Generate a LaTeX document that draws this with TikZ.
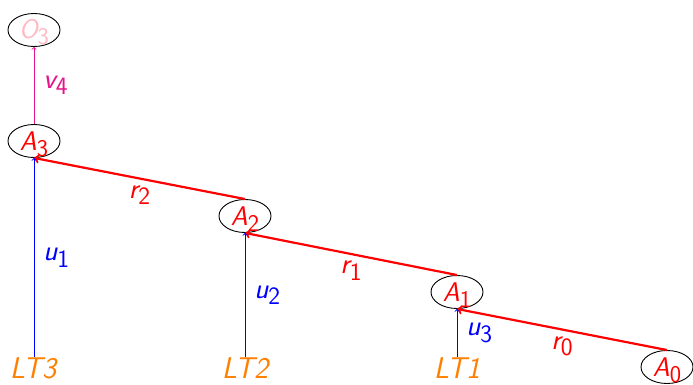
\documentclass[tikz,border=0pt]{standalone}
\usepackage{fontspec}
\usetikzlibrary{shapes.geometric}
\definecolor{lblorange}{RGB}{255,128,0}
\definecolor{lblpink}{RGB}{255,185,195}
\definecolor{lblmag}{RGB}{230,20,140}
\newcommand\esub[1]{\raisebox{-6pt}{\fontsize{24}{24}\selectfont\upshape #1}}
\newcommand\lsub[1]{\raisebox{-6.5pt}{\fontsize{25}{25}\selectfont\upshape #1}}
\tikzset{
  state/.style={ellipse,draw=black,line width=0.9pt,minimum width=52pt,minimum height=33pt,inner sep=0pt,text height=20pt,text depth=2pt,text=red,font=\fontsize{27}{31}\selectfont\sffamily\itshape},
  ltnode/.style={text=lblorange,inner sep=0pt,font=\fontsize{30}{34}\selectfont\sffamily\itshape},
  elbl/.style={font=\fontsize{29}{33}\selectfont\sffamily\itshape,inner sep=2pt},
  redarr/.style={->,draw=red,line width=2.2pt},
  bluearr/.style={->,draw=blue,line width=0.9pt},
}
\begin{document}
\begin{tikzpicture}[x=1pt,y=-1pt]
\useasboundingbox (0,0) rectangle (693,385);
\node[state,text=lblpink] (O3) at (34,30) {O\esub{3}};
\node[state] (A3) at (34,141) {A\esub{3}};
\node[state] (A2) at (245,216) {A\esub{2}};
\node[state] (A1) at (457,292) {A\esub{1}};
\node[state] (A0) at (667,367) {A\esub{0}};
\node[ltnode] (LT3) at (33,368) {LT3};
\node[ltnode] (LT2) at (245,368) {LT2};
\node[ltnode] (LT1) at (457,368) {LT1};
\draw[redarr] (A0.north) -- node[elbl,text=red,below=4pt] {r\lsub{0}} (A1.south);
\draw[redarr] (A1.north) -- node[elbl,text=red,below=4pt] {r\lsub{1}} (A2.south);
\draw[redarr] (A2.north) -- node[elbl,text=red,below=4pt] {r\lsub{2}} (A3.south);
\draw[bluearr] (LT3.north -| A3.south) -- node[elbl,text=blue,right=7pt] {u\lsub{1}} (A3.south);
\draw[bluearr] (LT2.north) -- node[elbl,text=blue,right=7pt] {u\lsub{2}} (A2.south);
\draw[bluearr] (LT1.north) -- node[elbl,text=blue,right=7pt] {u\lsub{3}} (A1.south);
\draw[->,draw=lblmag,line width=0.9pt] (A3.north) -- node[elbl,text=lblmag,right=7pt] {v\lsub{4}} (O3.south);
\end{tikzpicture}
\end{document}
